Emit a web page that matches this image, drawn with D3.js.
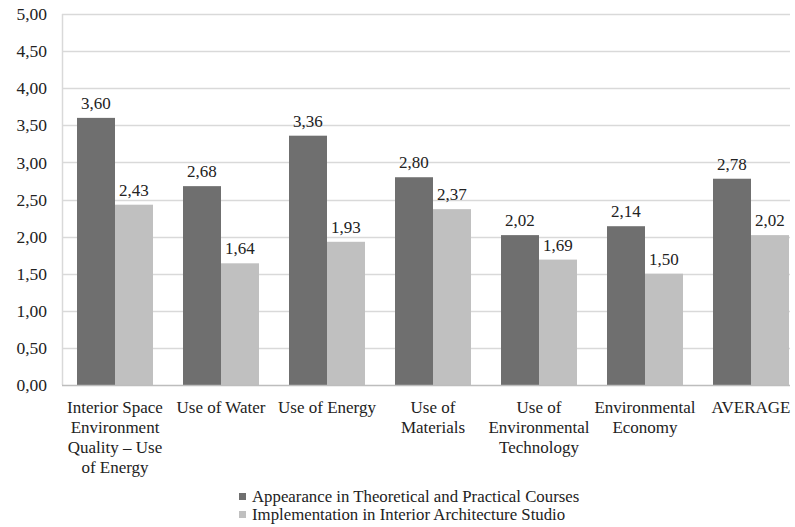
<!DOCTYPE html>
<html><head><meta charset="utf-8">
<script src="https://cdn.jsdelivr.net/npm/d3@7"></script>
<style>body{margin:0;background:#fff}svg{display:block}text{font-family:"Liberation Serif","Times New Roman",serif;fill:#222}</style>
</head><body>
<svg id="c" width="795" height="527"></svg>
<script>
const categories = [
  ["Interior Space","Environment","Quality – Use","of Energy"],
  ["Use of Water"],
  ["Use of Energy"],
  ["Use of","Materials"],
  ["Use of","Environmental","Technology"],
  ["Environmental","Economy"],
  ["AVERAGE"]
];
const seriesNames = ["Appearance in Theoretical and Practical Courses","Implementation in Interior Architecture Studio"];
const appearance = [3.60, 2.68, 3.36, 2.80, 2.02, 2.14, 2.78];
const implementation = [2.43, 1.64, 1.93, 2.37, 1.69, 1.50, 2.02];
const yTicks = [0,0.5,1,1.5,2,2.5,3,3.5,4,4.5,5];
const colors = ["#6f6f6f","#c0c0c0"];

(function(){
const svg = d3.select("#c");
const pL = 62, pR = 804, pT = 14, pB = 385, gridRight = 790;
const fmt = v => v.toFixed(2).replace(".", ",");

const y = d3.scaleLinear().domain([0,5]).range([pB, pT]);
const x0 = d3.scaleBand().domain(d3.range(categories.length)).range([pL, pR]).paddingInner(0.283).paddingOuter(0.1415);
const x1 = d3.scaleBand().domain([0,1]).range([0, x0.bandwidth()]);

svg.append("g").selectAll("line").data(yTicks.filter(d=>d>0)).join("line")
  .attr("x1", pL).attr("x2", gridRight)
  .attr("y1", d=>Math.round(y(d))+0.5).attr("y2", d=>Math.round(y(d))+0.5)
  .attr("stroke", "#d9d9d9").attr("stroke-width", 1.5);
svg.append("line").attr("x1", pL+0.5).attr("x2", pL+0.5).attr("y1", pT).attr("y2", pB)
  .attr("stroke","#d9d9d9").attr("stroke-width",1.5);

const yAxis = d3.axisLeft(y).tickValues(yTicks).tickFormat(fmt).tickSize(0).tickPadding(15);
const gy = svg.append("g").attr("transform", `translate(${pL},0)`).call(yAxis);
gy.select(".domain").remove();
gy.selectAll("text").attr("font-size", 17.5).attr("fill", "#333");

const data = categories.map((c,i)=>[appearance[i], implementation[i]]);
const groups = svg.append("g").selectAll("g").data(data).join("g")
  .attr("transform", (d,i)=>`translate(${x0(i)},0)`);
groups.selectAll("rect").data(d=>d).join("rect")
  .attr("x", (d,j)=>x1(j)).attr("width", x1.bandwidth())
  .attr("y", d=>y(d)).attr("height", d=>y(0)-y(d))
  .attr("fill", (d,j)=>colors[j]);
groups.selectAll("text").data(d=>d).join("text")
  .attr("x", (d,j)=>x1(j)+x1.bandwidth()/2)
  .attr("y", d=>y(d)-9)
  .attr("text-anchor","middle").attr("font-size", 17).attr("fill","#333")
  .text(fmt);

svg.append("line").attr("x1", pL).attr("x2", gridRight).attr("y1", pB+0.5).attr("y2", pB+0.5)
  .attr("stroke","#bdbdbd").attr("stroke-width",1.5);

const xl = svg.append("g").selectAll("text").data(categories).join("text")
  .attr("text-anchor","middle").attr("font-size", 17).attr("fill","#222")
  .attr("transform",(d,i)=>`translate(${x0(i)+x0.bandwidth()/2},${pB+28})`);
xl.selectAll("tspan").data(d=>d).join("tspan")
  .attr("x",0).attr("y",(d,k)=>k*20).text(d=>d);

const lg = svg.append("g").attr("transform","translate(239,493)");
const li = lg.selectAll("g").data(seriesNames).join("g").attr("transform",(d,i)=>`translate(0,${i*18})`);
li.append("rect").attr("width",7).attr("height",7).attr("y",0).attr("fill",(d,i)=>colors[i]);
li.append("text").attr("x",13).attr("y",9).attr("font-size",16.8).attr("fill","#222").text(d=>d);
})();
</script>
</body></html>
